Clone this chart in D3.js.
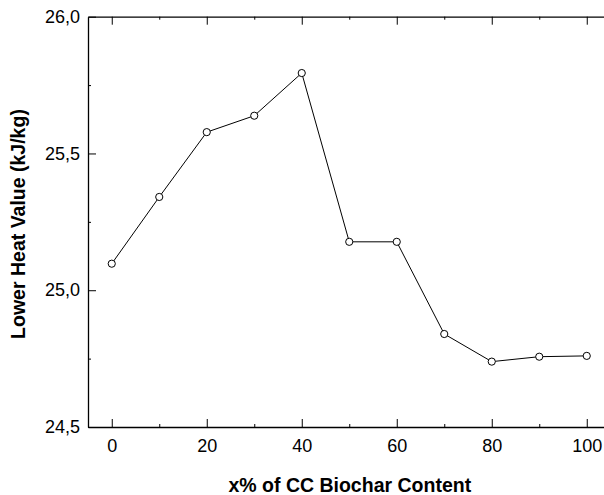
<!DOCTYPE html>
<html>
<head>
<meta charset="utf-8">
<script src="https://cdn.jsdelivr.net/npm/d3@7"></script>
<style>
  body { margin: 0; background: #fff; }
  svg { display: block; font-family: "Liberation Sans", Arial, sans-serif; }
</style>
</head>
<body>
<div id="chart"></div>
<script>
// Data
const biocharContent = [0, 10, 20, 30, 40, 50, 60, 70, 80, 90, 100];
const lowerHeatValue = [25.097, 25.341, 25.578, 25.638, 25.794, 25.177, 25.177, 24.840, 24.739, 24.757, 24.760];
const xMajorTicks = [0, 20, 40, 60, 80, 100];
const xMinorTicks = [10, 30, 50, 70, 90];
const yMajorTicks = [24.5, 25.0, 25.5, 26.0];
const yMinorTicks = [24.75, 25.25, 25.75];

const width = 604, height = 495;
const plotLeft = 88, plotTop = 16.7, plotRight = 610.5, plotBottom = 427;

const svg = d3.select("#chart").append("svg")
  .attr("width", width)
  .attr("height", height);

const x = d3.scaleLinear().domain([-5, 105]).range([plotLeft, plotRight]);
const y = d3.scaleLinear().domain([24.5, 26.0]).range([plotBottom, plotTop]);

// comma as decimal separator
const locale = d3.formatLocale({ decimal: ",", thousands: ".", grouping: [3], currency: ["", ""] });
const fmtY = locale.format(".1f");

function styleAxis(g) {
  g.select(".domain").attr("stroke", "#000").attr("stroke-width", 1.3);
  g.selectAll(".tick line").attr("stroke", "#000").attr("stroke-width", 1);
  g.selectAll(".tick text").attr("fill", "#000").attr("font-size", 18).attr("font-family", "Liberation Sans, Arial, sans-serif");
}

// bottom axis
svg.append("g")
  .attr("transform", `translate(0,${plotBottom})`)
  .call(d3.axisBottom(x).tickValues(xMajorTicks).tickSizeInner(-8).tickSizeOuter(0).tickPadding(12))
  .call(styleAxis);
svg.append("g")
  .attr("transform", `translate(0,${plotBottom})`)
  .call(d3.axisBottom(x).tickValues(xMinorTicks).tickSizeInner(-3).tickSizeOuter(0).tickFormat(""))
  .call(g => g.select(".domain").remove())
  .call(styleAxis);

// top axis
svg.append("g")
  .attr("transform", `translate(0,${plotTop})`)
  .call(d3.axisTop(x).tickValues(xMajorTicks).tickSizeInner(-8).tickSizeOuter(0).tickFormat(""))
  .call(styleAxis);
svg.append("g")
  .attr("transform", `translate(0,${plotTop})`)
  .call(d3.axisTop(x).tickValues(xMinorTicks).tickSizeInner(-3).tickSizeOuter(0).tickFormat(""))
  .call(g => g.select(".domain").remove())
  .call(styleAxis);

// left axis
svg.append("g")
  .attr("transform", `translate(${plotLeft},0)`)
  .call(d3.axisLeft(y).tickValues(yMajorTicks).tickSizeInner(-8).tickSizeOuter(0).tickPadding(8).tickFormat(fmtY))
  .call(styleAxis);
svg.append("g")
  .attr("transform", `translate(${plotLeft},0)`)
  .call(d3.axisLeft(y).tickValues(yMinorTicks).tickSizeInner(-3).tickSizeOuter(0).tickFormat(""))
  .call(g => g.select(".domain").remove())
  .call(styleAxis);

// right border (outside the frame)
svg.append("line")
  .attr("x1", plotRight).attr("x2", plotRight)
  .attr("y1", plotTop).attr("y2", plotBottom)
  .attr("stroke", "#000").attr("stroke-width", 1.3);

// line + markers
const pts = biocharContent.map((d, i) => [d, lowerHeatValue[i]]);
svg.append("path")
  .datum(pts)
  .attr("fill", "none")
  .attr("stroke", "#000")
  .attr("stroke-width", 1)
  .attr("d", d3.line().x(d => x(d[0])).y(d => y(d[1])));

svg.selectAll("circle")
  .data(pts)
  .enter()
  .append("circle")
  .attr("cx", d => x(d[0]))
  .attr("cy", d => y(d[1]))
  .attr("r", 3.6)
  .attr("fill", "#fff")
  .attr("stroke", "#000")
  .attr("stroke-width", 1);

// axis titles
svg.append("text")
  .attr("x", 349.8)
  .attr("y", 491.5)
  .attr("text-anchor", "middle")
  .attr("font-weight", "bold")
  .attr("font-size", 19.5)
  .text("x% of CC Biochar Content");

svg.append("text")
  .attr("transform", "translate(25,224) rotate(-90)")
  .attr("text-anchor", "middle")
  .attr("font-weight", "bold")
  .attr("font-size", 19.5)
  .text("Lower Heat Value (kJ/kg)");
</script>
</body>
</html>
